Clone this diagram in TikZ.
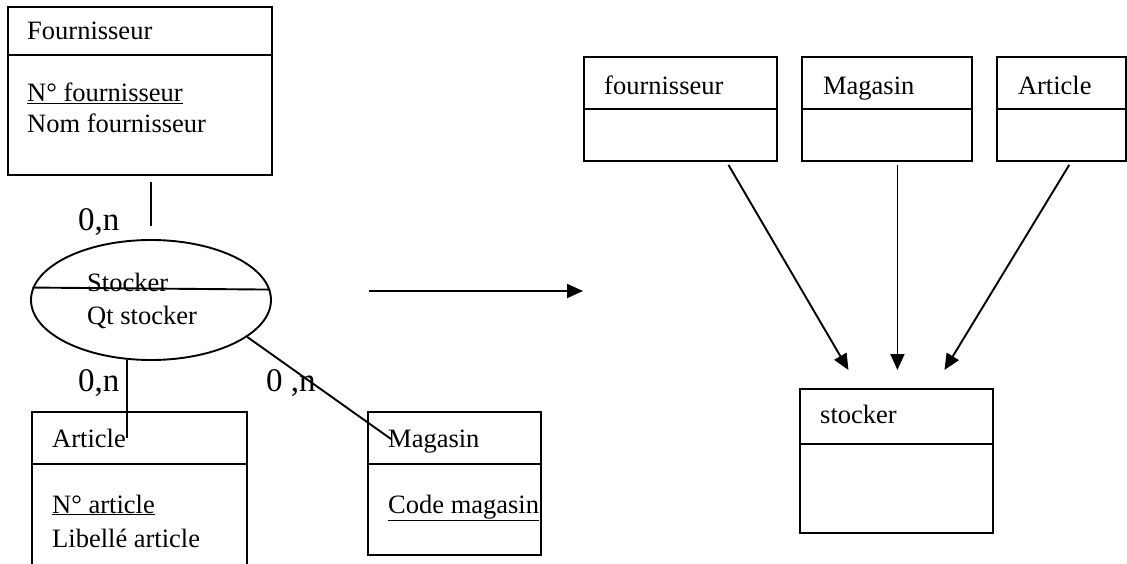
\documentclass[tikz,border=0pt]{standalone}
\usepackage{fontspec}
\setmainfont{Liberation Serif}
\usepackage{tikz}
\usetikzlibrary{arrows.meta,positioning,calc,shapes.geometric}
\tikzset{
  entbox/.style={draw, line width=1.9pt, anchor=north west, inner sep=0pt},
  assocbox/.style={draw, ellipse, line width=1.9pt, inner sep=0pt, minimum width=240pt, minimum height=120pt},
  txt/.style={anchor=base west, inner sep=0pt, font=\fontsize{26.5}{30}\selectfont},
  card/.style={anchor=base west, inner sep=0pt, font=\fontsize{33}{36}\selectfont},
  conn/.style={line width=1.9pt},
  arr/.style={-{Triangle[length=16pt,width=14pt]}, line width=1.9pt}
}

\begin{document}
\begin{tikzpicture}[x=1pt, y=-1pt]
  \useasboundingbox (0,0) rectangle (1127,564);
  \clip (0,0) rectangle (1127,564);
  % left: conceptual model
  \node[entbox, minimum width=264pt, minimum height=168pt] (fourn) at (7,6) {};
  \draw[conn] ([yshift=-49pt]fourn.north west) -- ([yshift=-49pt]fourn.north east);
  \node[txt] (fournT) at ([xshift=20pt,yshift=-34pt]fourn.north west) {Fournisseur};
  \node[txt] (fournK) at ([xshift=20pt,yshift=-96pt]fourn.north west) {\underline{N° fournisseur}};
  \node[txt] (fournA) at ([xshift=20pt,yshift=-127pt]fourn.north west) {Nom fournisseur};

  \node[assocbox] (assoc) at (151,300) {};
  \draw[conn] (assoc.174.67) -- (assoc.5.33);
  \node[txt] (assocT) at (87,291) {Stocker};
  \node[txt] (assocA) at (87,324) {Qt stocker};

  \node[entbox, minimum width=215pt, minimum height=170pt] (art) at (31,411) {};
  \draw[conn] ([yshift=-53pt]art.north west) -- ([yshift=-53pt]art.north east);
  \node[txt] (artT) at ([xshift=21pt,yshift=-36pt]art.north west) {Article};
  \node[txt] (artK) at ([xshift=21pt,yshift=-102pt]art.north west) {\underline{N° article}};
  \node[txt] (artA) at ([xshift=21pt,yshift=-136pt]art.north west) {Libellé article};

  \node[entbox, minimum width=173pt, minimum height=143pt] (mag) at (367,411) {};
  \draw[conn] ([yshift=-53pt]mag.north west) -- ([yshift=-53pt]mag.north east);
  \node[txt] (magT) at ([xshift=21pt,yshift=-36pt]mag.north west) {Magasin};
  \node[txt] (magK) at ([xshift=21pt,yshift=-102pt]mag.north west) {\underline{Code magasin}};

  \coordinate (artin) at ([xshift=96pt,yshift=-27pt]art.north west);
  \coordinate (magin) at ([xshift=24pt,yshift=-28pt]mag.north west);
  \draw[conn, shorten <=6pt, shorten >=13pt] (assoc.north |- fourn.south) -- (assoc.north);
  \draw[conn] (assoc.-112.2) -- (assoc.-112.2 |- artin);
  \draw[conn] (assoc.-21.6) -- (magin);

  \node[card] (cardF) at (78,230) {0,n};
  \node[card] (cardA) at (78,391) {0,n};
  \node[card] (cardM) at (266,391) {0 ,n};

  % right: relational model
  \node[entbox, minimum width=193pt, minimum height=104pt] (fR) at (583,56) {};
  \node[entbox, minimum width=170pt, minimum height=104pt, right=23pt of fR] (mR) {};
  \node[entbox, minimum width=129pt, minimum height=104pt, right=23pt of mR] (aR) {};
  \node[entbox, minimum width=193pt, minimum height=144pt] (stock) at (799,388) {};
  \foreach \b in {fR,mR,aR}
    \draw[conn] ([yshift=-53pt]\b.north west) -- ([yshift=-53pt]\b.north east);
  \draw[conn] ([yshift=-56pt]stock.north west) -- ([yshift=-56pt]stock.north east);
  \node[txt] (fRT) at ([xshift=21pt,yshift=-39pt]fR.north west) {fournisseur};
  \node[txt] (mRT) at ([xshift=22pt,yshift=-39pt]mR.north west) {Magasin};
  \node[txt] (aRT) at ([xshift=22pt,yshift=-39pt]aR.north west) {Article};
  \node[txt] (stockT) at ([xshift=21pt,yshift=-35pt]stock.north west) {stocker};

  \coordinate (stin) at ([xshift=1pt,yshift=18pt]stock.north);
  \draw[arr] ([xshift=97pt,yshift=9pt]assoc.east) coordinate (arrs) -- (arrs -| fR.west);
  \draw[arr] ([xshift=48pt,yshift=-3pt]fR.south) -- ([xshift=-48pt,yshift=18pt]stock.north);
  \draw[arr] ([yshift=-3pt]mR.south -| stin) -- (stin);
  \draw[arr] ([xshift=8pt,yshift=-3pt]aR.south) -- ([xshift=48pt,yshift=18pt]stock.north);
\end{tikzpicture}
\end{document}
